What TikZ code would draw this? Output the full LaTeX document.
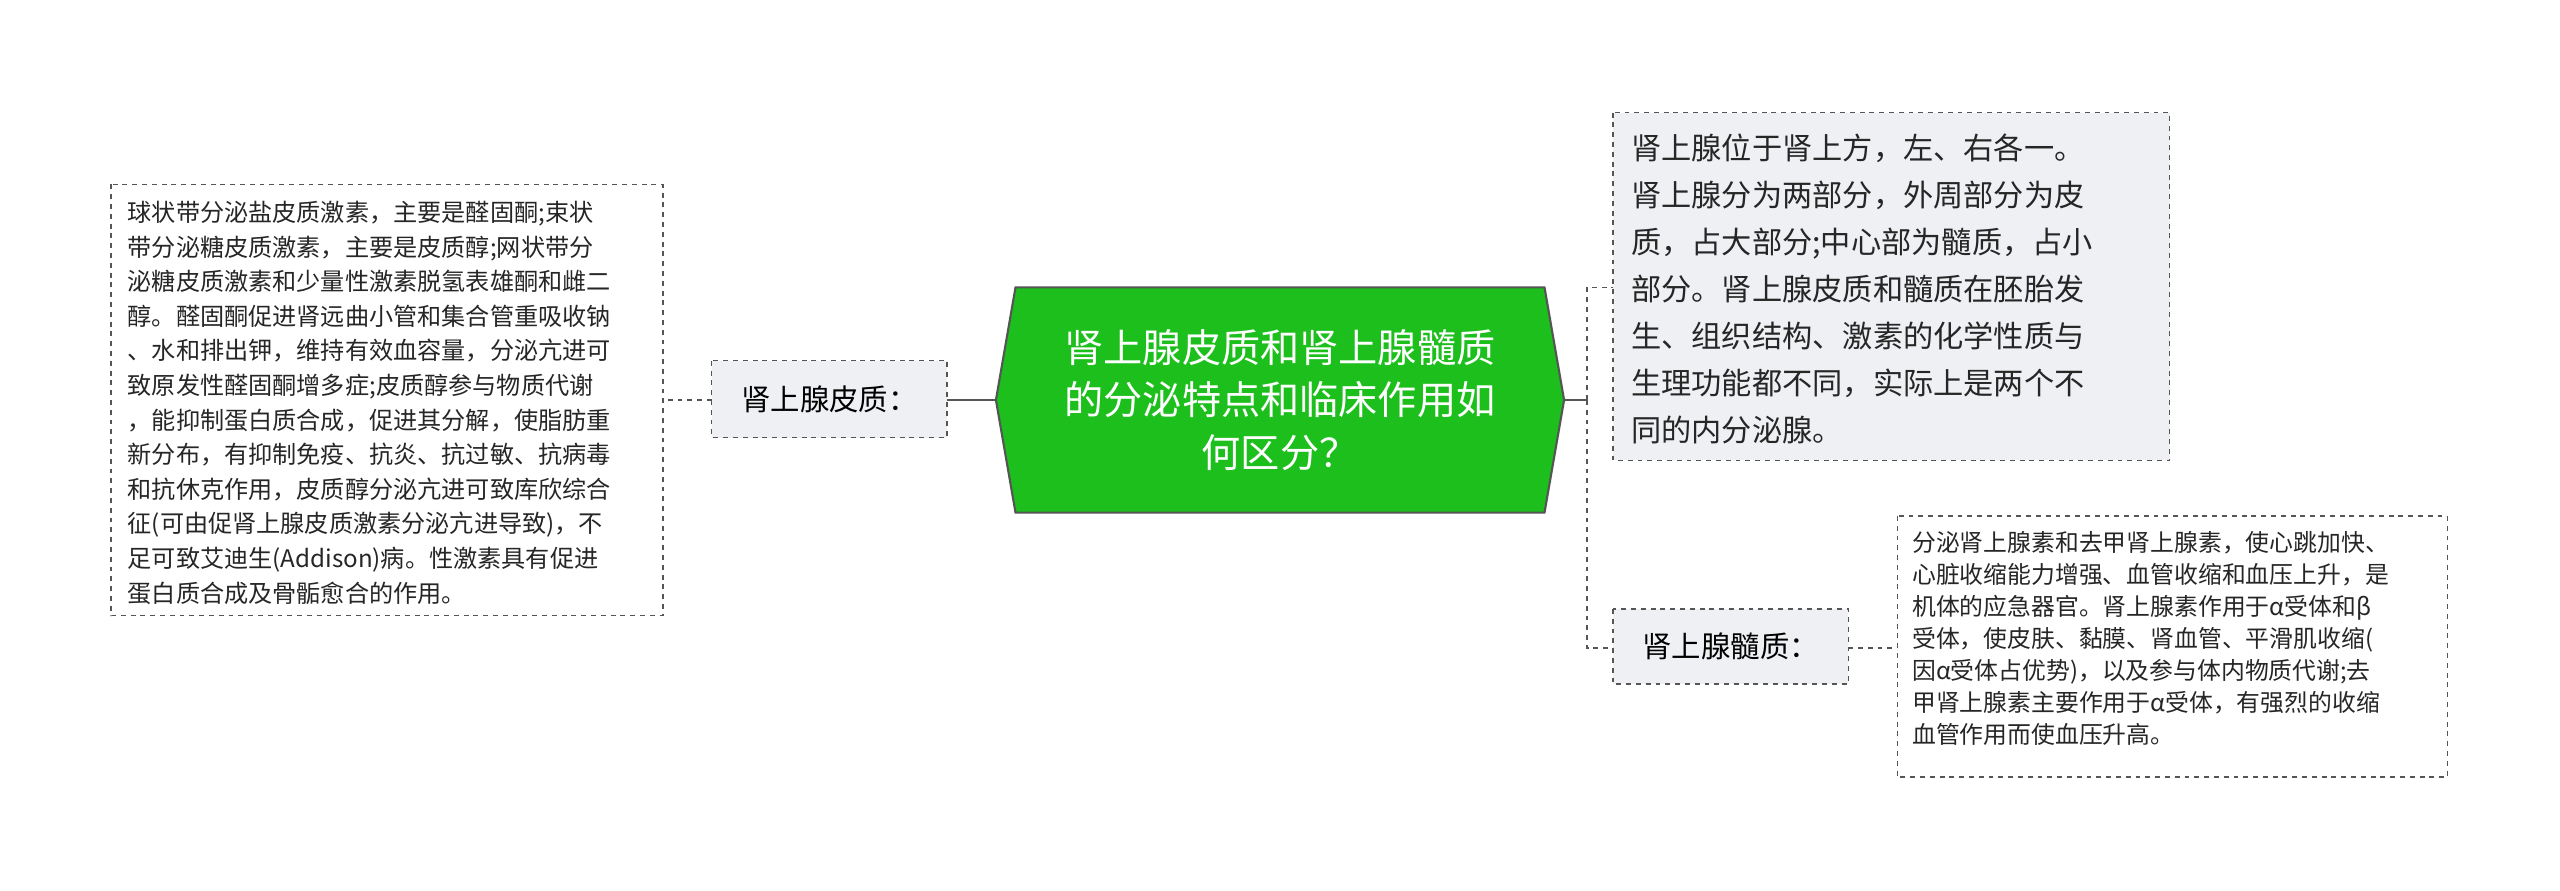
\documentclass[tikz,border=0pt]{standalone}
\usepackage{fontspec}
\setmainfont{Noto Sans CJK SC}
\usetikzlibrary{shapes.geometric}
\definecolor{boxgray}{HTML}{EEF0F3}
\definecolor{edge}{HTML}{555555}
\definecolor{mgreen}{HTML}{1DBF1D}
\tikzset{
 dbox/.style={draw=edge,dashed,line width=0.8pt,inner sep=0pt},
 conn/.style={draw=edge,line width=1.2pt},
 dconn/.style={draw=edge,line width=1pt,dashed},
 txt/.style={anchor=north west,align=left,inner sep=0pt,text=black!85},
}
\begin{document}
\begin{tikzpicture}[x=1pt,y=-1pt]
\useasboundingbox (0,0) rectangle (1568,545.7);
% central hexagon
\draw[fill=mgreen,draw=edge,line width=1.3pt] (622,176) -- (946,176) -- (958,245) -- (946,314) -- (622,314) -- (610,245) -- cycle;
\coordinate (cl) at (610,245);
\coordinate (cr) at (958,245);
\node[text=white,align=center,font=\fontsize{24}{32}\selectfont] (main) at (784,245) {肾上腺皮质和肾上腺髓质\\的分泌特点和临床作用如\\何区分？};
% left label
\draw[dbox,fill=boxgray] (436,221) rectangle (580,268);
\node[font=\fontsize{18}{22}\selectfont] (ll) at (508,244.5) {肾上腺皮质：};
\coordinate (llr) at (580,245); \coordinate (lll) at (436,245);
% left text
\draw[dbox,fill=white] (68,113) rectangle (406,377);
\coordinate (ltr) at (406,245);
\node[txt,font=\fontsize{14.8}{21.2}\selectfont] (lt) at (78,123) {球状带分泌盐皮质激素，主要是醛固酮;束状\\带分泌糖皮质激素，主要是皮质醇;网状带分\\泌糖皮质激素和少量性激素脱氢表雄酮和雌二\\醇。醛固酮促进肾远曲小管和集合管重吸收钠\\、水和排出钾，维持有效血容量，分泌亢进可\\致原发性醛固酮增多症;皮质醇参与物质代谢\\，能抑制蛋白质合成，促进其分解，使脂肪重\\新分布，有抑制免疫、抗炎、抗过敏、抗病毒\\和抗休克作用，皮质醇分泌亢进可致库欣综合\\征(可由促肾上腺皮质激素分泌亢进导致)，不\\足可致艾迪生(Addison)病。性激素具有促进\\蛋白质合成及骨骺愈合的作用。};
% right top
\draw[dbox,fill=boxgray] (988,69) rectangle (1329,282);
\node[txt,font=\fontsize{18.5}{28.8}\selectfont] (rt) at (999,82) {肾上腺位于肾上方，左、右各一。\\肾上腺分为两部分，外周部分为皮\\质，占大部分;中心部为髓质，占小\\部分。肾上腺皮质和髓质在胚胎发\\生、组织结构、激素的化学性质与\\生理功能都不同，实际上是两个不\\同的内分泌腺。};
\coordinate (rtl) at (988,176);
% right bottom label
\draw[dbox,fill=boxgray] (988,373) rectangle (1132,419);
\node[font=\fontsize{18}{22}\selectfont] (rl) at (1060,396) {肾上腺髓质：};
\coordinate (rll) at (988,397); \coordinate (rlr) at (1132,397);
% right bottom text
\draw[dbox,fill=white] (1162,316) rectangle (1499,476);
\coordinate (rbl) at (1162,397);
\node[txt,font=\fontsize{14.6}{19.6}\selectfont] (rb) at (1171,325) {分泌肾上腺素和去甲肾上腺素，使心跳加快、\\心脏收缩能力增强、血管收缩和血压上升，是\\机体的应急器官。肾上腺素作用于α受体和β\\受体，使皮肤、黏膜、肾血管、平滑肌收缩(\\因α受体占优势)，以及参与体内物质代谢;去\\甲肾上腺素主要作用于α受体，有强烈的收缩\\血管作用而使血压升高。};
% connectors
\draw[conn] (cl) -- (llr);
\draw[dconn] (lll) -- (ltr);
\coordinate (j) at (972,245);
\draw[conn] (cr) -- (j);
\draw[dconn] (j) |- (rtl);
\draw[dconn] (j) |- (rll);
\draw[dconn] (rlr) -- (rbl);
\end{tikzpicture}
\end{document}
